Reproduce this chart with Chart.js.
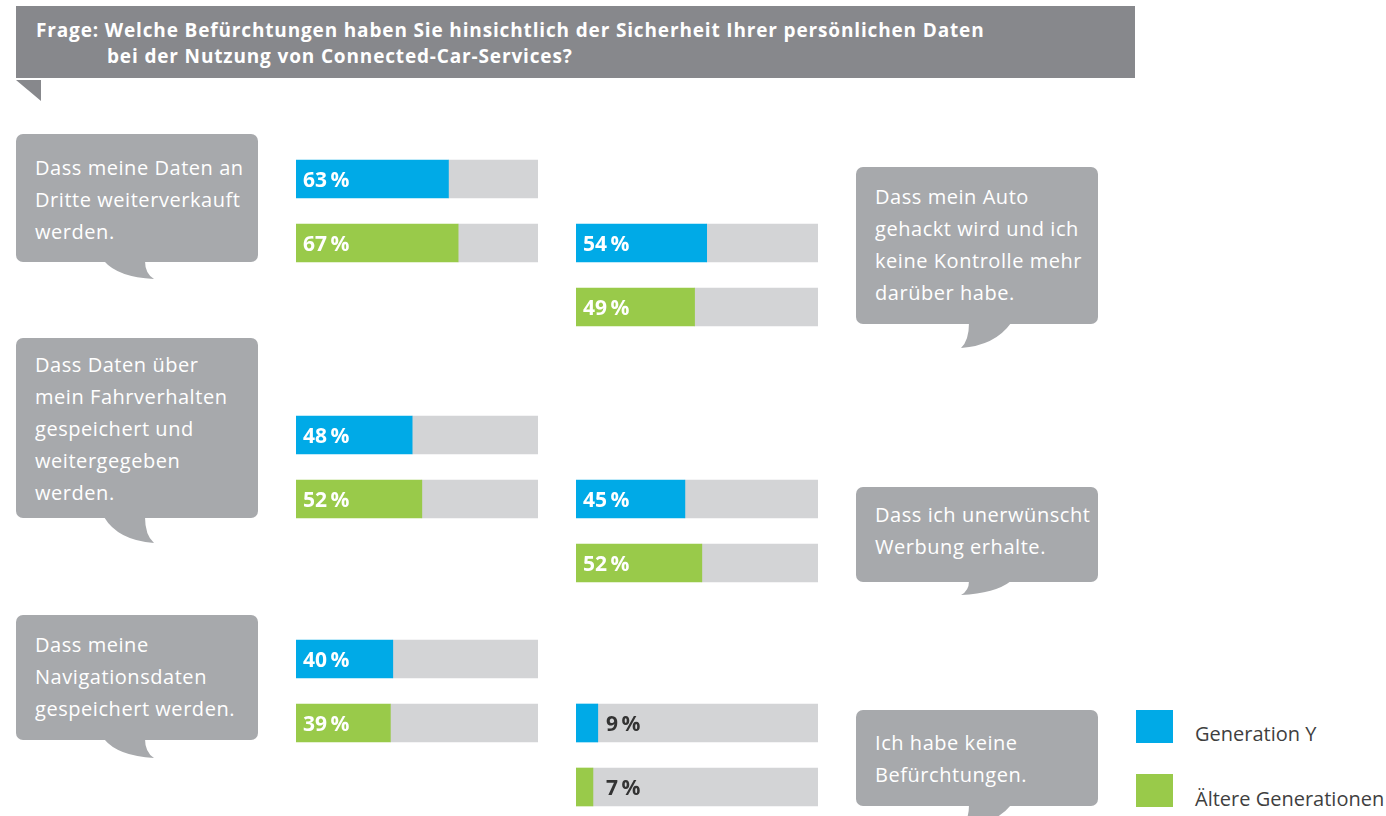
<!DOCTYPE html>
<html lang="de">
<head>
<meta charset="utf-8">
<title>Befürchtungen Connected-Car-Services</title>
<script src="https://cdn.jsdelivr.net/npm/chart.js@4.4.1/dist/chart.umd.min.js"></script>
<style>
  html, body { margin: 0; padding: 0; background: #fff; overflow: hidden; }
  #seite { position: relative; width: 1386px; height: 816px; font-family: "Open Sans", sans-serif; }
  #deko { position: absolute; left: 0; top: 0; }
  .titel { position: absolute; left: 36px; top: 17px; color: #fff; font-weight: 700; font-size: 19px;
           line-height: 26px; letter-spacing: 0.85px; white-space: nowrap; }
  .titel span { display: block; }
  .titel span + span { padding-left: 71px; }
  .blase { position: absolute; color: #fff; font-size: 20px; line-height: 32px; letter-spacing: 0.55px;
           white-space: nowrap; }
  .leg-box { position: absolute; left: 1136px; width: 37px; height: 33px; }
  .leg-text { position: absolute; left: 1195px; color: #3f3f3f; font-size: 20px; line-height: 32px;
              white-space: nowrap; }
  canvas { position: absolute; }
</style>
</head>
<body>
<div id="seite">
  <svg id="deko" width="1386" height="816"></svg>
</div>
<script>
// Daten
const titel = [
  'Frage: Welche Befürchtungen haben Sie hinsichtlich der Sicherheit Ihrer persönlichen Daten',
  'bei der Nutzung von Connected-Car-Services?'
];
const fragen = [
  'Dass meine Daten an\nDritte weiterverkauft\nwerden.',
  'Dass mein Auto\ngehackt wird und ich\nkeine Kontrolle mehr\ndarüber habe.',
  'Dass Daten über\nmein Fahrverhalten\ngespeichert und\nweitergegeben\nwerden.',
  'Dass ich unerwünscht\nWerbung erhalte.',
  'Dass meine\nNavigationsdaten\ngespeichert werden.',
  'Ich habe keine\nBefürchtungen.'
];
const serien = ['Generation Y', 'Ältere Generationen'];
const generationY = [63, 54, 48, 45, 40, 9];
const aeltereGenerationen = [67, 49, 52, 52, 39, 7];

const blau = '#00aae7';
const gruen = '#99ca4a';
const grau = '#d3d4d6';
const blasenGrau = '#a7a9ac';
const kopfGrau = '#87888c';

// Layout: Balkenposition, Sprechblase (Rechteck, Textgrundlinie, Zipfel)
const layout = [
  { cx: 296, cy: 147, bx: 16,  by: 134, bh: 128, base: 176, seite: 'l', tief: 18 },
  { cx: 576, cy: 211, bx: 856, by: 167, bh: 157, base: 205, seite: 'r', tief: 25 },
  { cx: 296, cy: 403, bx: 16,  by: 338, bh: 180, base: 373, seite: 'l', tief: 26 },
  { cx: 576, cy: 467, bx: 856, by: 487, bh: 95,  base: 523, seite: 'r', tief: 14 },
  { cx: 296, cy: 627, bx: 16,  by: 615, bh: 125, base: 653, seite: 'l', tief: 19 },
  { cx: 576, cy: 691, bx: 856, by: 710, bh: 96,  base: 751, seite: 'r', tief: 22 }
];

const seite = document.getElementById('seite');
const svg = document.getElementById('deko');
const ns = 'http://www.w3.org/2000/svg';

function svgEl(tag, attrs) {
  const el = document.createElementNS(ns, tag);
  for (const k in attrs) el.setAttribute(k, attrs[k]);
  svg.appendChild(el);
  return el;
}

// Kopfzeile
svgEl('rect', { x: 16, y: 6, width: 1119, height: 72, fill: kopfGrau });
svgEl('path', { d: 'M16 80 L41 80 L41 101 Z', fill: kopfGrau });
const t = document.createElement('div');
t.className = 'titel';
titel.forEach(z => { const s = document.createElement('span'); s.textContent = z; t.appendChild(s); });
seite.appendChild(t);

// Sprechblasen
layout.forEach((p, i) => {
  svgEl('rect', { x: p.bx, y: p.by, width: 242, height: p.bh, rx: 7, ry: 7, fill: blasenGrau });
  const b = p.by + p.bh - 1;
  let d;
  if (p.seite === 'l') {
    d = `M104 ${b} Q118 ${b + p.tief * 0.9} 154 ${b + p.tief} Q145 ${b + p.tief * 0.7} 145 ${b} Z`;
  } else {
    d = `M1011 ${b} Q995 ${b + p.tief * 0.9} 961 ${b + p.tief} Q969 ${b + p.tief * 0.7} 969 ${b} Z`;
  }
  svgEl('path', { d: d, fill: blasenGrau });

  const div = document.createElement('div');
  div.className = 'blase';
  div.style.left = (p.bx + 19) + 'px';
  div.style.top = (p.base - 24) + 'px';
  fragen[i].split('\n').forEach((z, k) => {
    if (k) div.appendChild(document.createElement('br'));
    div.appendChild(document.createTextNode(z));
  });
  seite.appendChild(div);
});

// Legende
serien.forEach((name, k) => {
  const box = document.createElement('div');
  box.className = 'leg-box';
  box.style.top = (710 + k * 64) + 'px';
  box.style.background = k ? gruen : blau;
  seite.appendChild(box);
  const txt = document.createElement('div');
  txt.className = 'leg-text';
  txt.style.top = (718 + k * 65) + 'px';
  txt.textContent = name;
  seite.appendChild(txt);
});

// Prozentwerte in den Balken
const wertLabels = {
  id: 'wertLabels',
  afterDatasetsDraw(chart) {
    const ctx = chart.ctx;
    const werte = chart.data.datasets[0].data;
    chart.getDatasetMeta(0).data.forEach((bar, j) => {
      const v = werte[j];
      const klein = v < 15;
      ctx.save();
      ctx.font = 'bold 21px "Open Sans"';
      ctx.textBaseline = 'alphabetic';
      ctx.fillStyle = klein ? '#333333' : '#ffffff';
      ctx.fillText(v + '\u2009%', bar.base + (klein ? 30 : 7), bar.y + 8);
      ctx.restore();
    });
  }
};

layout.forEach((p, i) => {
  const canvas = document.createElement('canvas');
  canvas.width = 242;
  canvas.height = 128;
  canvas.style.left = p.cx + 'px';
  canvas.style.top = p.cy + 'px';
  seite.appendChild(canvas);
  const werte = [generationY[i], aeltereGenerationen[i]];
  new Chart(canvas, {
    type: 'bar',
    data: {
      labels: serien,
      datasets: [{
        data: werte,
        backgroundColor: [blau, gruen],
        barThickness: 38,
        borderWidth: 0
      }, {
        data: werte.map(v => 100 - v),
        backgroundColor: grau,
        barThickness: 38,
        borderWidth: 0
      }]
    },
    options: {
      indexAxis: 'y',
      responsive: false,
      animation: false,
      events: [],
      layout: { padding: 0 },
      plugins: { legend: { display: false }, tooltip: { enabled: false } },
      scales: {
        x: { stacked: true, min: 0, max: 100, display: false },
        y: { stacked: true, display: false }
      }
    },
    plugins: [wertLabels]
  });
});
</script>
</body>
</html>
